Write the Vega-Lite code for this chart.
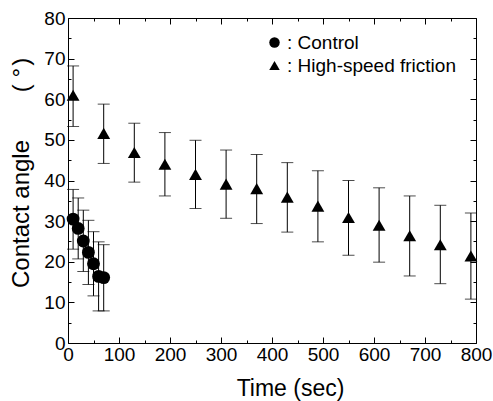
{
  "$schema": "https://vega.github.io/schema/vega-lite/v6.json",
  "width": 408,
  "height": 325,
  "autosize": "none",
  "padding": {"left": 68, "top": 18, "right": 17, "bottom": 58},
  "background": "white",
  "config": {
    "font": "Liberation Sans",
    "view": {"stroke": null},
    "axis": {
      "grid": false,
      "domainColor": "black",
      "domainWidth": 1,
      "tickColor": "black",
      "tickWidth": 1,
      "labelColor": "black",
      "titleColor": "black",
      "labelFontSize": 19,
      "titleFontSize": 23,
      "titleFontWeight": "normal"
    }
  },
  "data": {
    "values": [
      {"series": "Control", "time": 10, "angle": 30.5, "lower": 23.1, "upper": 37.8},
      {"series": "Control", "time": 20, "angle": 28.2, "lower": 20.7, "upper": 35.7},
      {"series": "Control", "time": 30, "angle": 25.1, "lower": 17.6, "upper": 32.7},
      {"series": "Control", "time": 40, "angle": 22.3, "lower": 14.4, "upper": 30.2},
      {"series": "Control", "time": 50, "angle": 19.5, "lower": 11.6, "upper": 27.4},
      {"series": "Control", "time": 60, "angle": 16.4, "lower": 7.9, "upper": 24.9},
      {"series": "Control", "time": 70, "angle": 16.1, "lower": 7.9, "upper": 24.2},
      {"series": "High-speed friction", "time": 10, "angle": 61.0, "lower": 53.3, "upper": 68.2},
      {"series": "High-speed friction", "time": 70, "angle": 51.6, "lower": 44.2, "upper": 58.8},
      {"series": "High-speed friction", "time": 130, "angle": 46.9, "lower": 39.6, "upper": 54.1},
      {"series": "High-speed friction", "time": 190, "angle": 44.0, "lower": 36.2, "upper": 51.8},
      {"series": "High-speed friction", "time": 250, "angle": 41.5, "lower": 33.1, "upper": 49.9},
      {"series": "High-speed friction", "time": 310, "angle": 39.1, "lower": 30.7, "upper": 47.5},
      {"series": "High-speed friction", "time": 370, "angle": 38.0, "lower": 29.4, "upper": 46.4},
      {"series": "High-speed friction", "time": 430, "angle": 35.9, "lower": 27.3, "upper": 44.4},
      {"series": "High-speed friction", "time": 490, "angle": 33.7, "lower": 24.9, "upper": 42.4},
      {"series": "High-speed friction", "time": 550, "angle": 30.9, "lower": 21.6, "upper": 40.0},
      {"series": "High-speed friction", "time": 610, "angle": 29.0, "lower": 19.9, "upper": 38.2},
      {"series": "High-speed friction", "time": 670, "angle": 26.4, "lower": 16.5, "upper": 36.2},
      {"series": "High-speed friction", "time": 730, "angle": 24.2, "lower": 14.6, "upper": 33.9},
      {"series": "High-speed friction", "time": 790, "angle": 21.4, "lower": 10.8, "upper": 32.0}
    ]
  },
  "layer": [
    {
      "mark": {"type": "errorbar", "ticks": {"size": 12, "color": "black", "thickness": 1}, "rule": {"color": "black", "strokeWidth": 1}},
      "encoding": {
        "x": {"field": "time", "type": "quantitative", "scale": {"domain": [0, 800], "nice": false}, "axis": null},
        "y": {"field": "lower", "type": "quantitative", "scale": {"domain": [0, 80], "nice": false}, "axis": null},
        "y2": {"field": "upper"}
      }
    },
    {
      "mark": {"type": "point", "filled": true, "opacity": 1, "color": "black", "size": 165},
      "encoding": {
        "x": {"field": "time", "type": "quantitative", "scale": {"domain": [0, 800], "nice": false},
          "axis": {"orient": "bottom", "values": [0, 100, 200, 300, 400, 500, 600, 700, 800], "tickSize": -6, "labelPadding": 8, "title": "Time (sec)", "titlePadding": 13, "titleX": 222, "labelFlush": false, "labelOverlap": false}},
        "y": {"field": "angle", "type": "quantitative", "scale": {"domain": [0, 80], "nice": false},
          "axis": {"orient": "left", "values": [0, 10, 20, 30, 40, 50, 60, 70, 80], "tickSize": -6, "labelPadding": 9, "title": "Contact angle", "titleFontSize": 24, "titleAngle": -90, "titleAlign": "center", "titleBaseline": "alphabetic", "titleX": -39.5, "titleY": 195.5, "labelFlush": false, "labelOverlap": false}},
        "shape": {"field": "series", "type": "nominal",
          "scale": {"domain": ["Control", "High-speed friction"], "range": ["circle", "triangle-up"]},
          "legend": {"orient": "none", "legendX": 197, "legendY": 15, "title": null, "padding": 0, "labelExpr": "': ' + datum.label", "labelFontSize": 19, "labelLimit": 400, "labelColor": "black", "labelOffset": 3, "symbolFillColor": "black", "symbolStrokeColor": "black", "symbolSize": 110, "rowPadding": 3, "symbolOpacity": 1}}
      }
    },
    {
      "mark": {"type": "point", "opacity": 0},
      "encoding": {
        "x": {"field": "time", "type": "quantitative", "scale": {"domain": [0, 800], "nice": false},
          "axis": {"orient": "bottom", "values": [50, 150, 250, 350, 450, 550, 650, 750], "tickSize": -3, "labels": false, "domain": false, "title": null}},
        "y": {"field": "angle", "type": "quantitative", "scale": {"domain": [0, 80], "nice": false},
          "axis": {"orient": "left", "values": [5, 15, 25, 35, 45, 55, 65, 75], "tickSize": -3, "labels": false, "domain": false, "title": "( °\u200a)", "titleFontSize": 24, "titleAngle": -90, "titleAlign": "center", "titleBaseline": "alphabetic", "titleX": -39.5, "titleY": 56.5}}
      }
    },
    {
      "mark": {"type": "point", "opacity": 0},
      "encoding": {
        "x": {"field": "time", "type": "quantitative", "scale": {"domain": [0, 800], "nice": false},
          "axis": {"orient": "top", "values": [0, 100, 200, 300, 400, 500, 600, 700, 800], "tickSize": -6, "labels": false, "title": null}},
        "y": {"field": "angle", "type": "quantitative", "scale": {"domain": [0, 80], "nice": false},
          "axis": {"orient": "right", "values": [0, 10, 20, 30, 40, 50, 60, 70, 80], "tickSize": -6, "labels": false, "title": null}}
      }
    },
    {
      "mark": {"type": "point", "opacity": 0},
      "encoding": {
        "x": {"field": "time", "type": "quantitative", "scale": {"domain": [0, 800], "nice": false},
          "axis": {"orient": "top", "values": [50, 150, 250, 350, 450, 550, 650, 750], "tickSize": -3, "labels": false, "domain": false, "title": null}},
        "y": {"field": "angle", "type": "quantitative", "scale": {"domain": [0, 80], "nice": false},
          "axis": {"orient": "right", "values": [5, 15, 25, 35, 45, 55, 65, 75], "tickSize": -3, "labels": false, "domain": false, "title": null}}
      }
    }
  ],
  "resolve": {"axis": {"x": "independent", "y": "independent"}}
}
